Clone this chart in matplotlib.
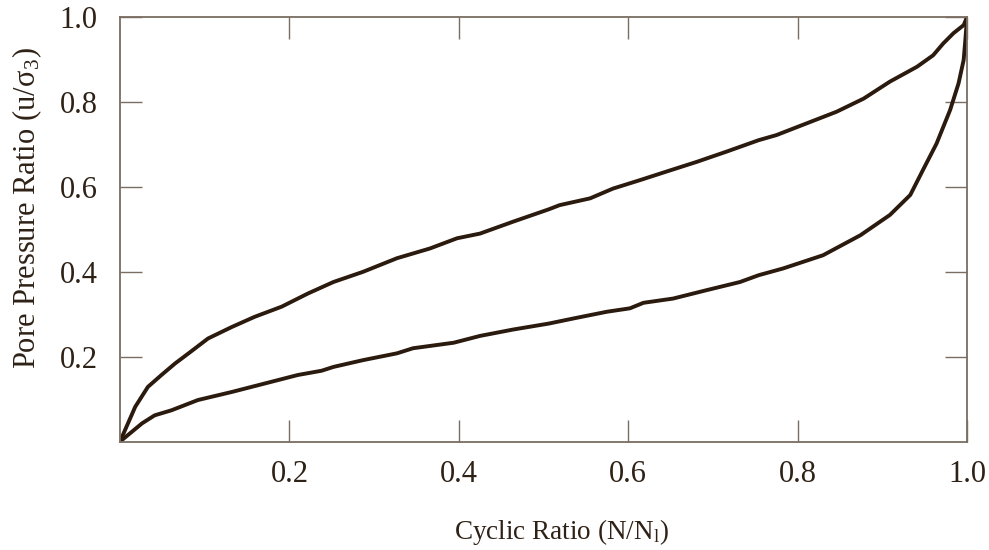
import matplotlib
matplotlib.use("Agg")
import matplotlib.pyplot as plt

# ── Data ──────────────────────────────────────────────────────────────────────

upper_x = [0.0, 0.018, 0.033, 0.049, 0.065, 0.081, 0.104, 0.132, 0.159, 0.191,
           0.222, 0.252, 0.287, 0.327, 0.366, 0.398, 0.425, 0.464, 0.506, 0.519,
           0.555, 0.582, 0.614, 0.645, 0.681, 0.716, 0.754, 0.775, 0.815, 0.846,
           0.878, 0.909, 0.941, 0.960, 0.972, 0.984, 0.996, 1.0]
upper_y = [0.0, 0.082, 0.129, 0.157, 0.184, 0.208, 0.243, 0.270, 0.294, 0.318,
           0.349, 0.376, 0.400, 0.432, 0.455, 0.479, 0.490, 0.518, 0.547, 0.557,
           0.573, 0.596, 0.616, 0.636, 0.659, 0.683, 0.710, 0.722, 0.753, 0.777,
           0.808, 0.848, 0.883, 0.910, 0.938, 0.962, 0.981, 1.0]

lower_x = [0.0, 0.026, 0.041, 0.061, 0.092, 0.132, 0.171, 0.210, 0.238, 0.252,
           0.287, 0.327, 0.346, 0.394, 0.425, 0.464, 0.506, 0.535, 0.575, 0.602,
           0.618, 0.653, 0.693, 0.732, 0.754, 0.783, 0.830, 0.874, 0.909, 0.933,
           0.948, 0.964, 0.980, 0.990, 0.996, 0.998, 1.0]
lower_y = [0.0, 0.043, 0.062, 0.074, 0.098, 0.117, 0.137, 0.157, 0.167, 0.176,
           0.192, 0.208, 0.220, 0.233, 0.249, 0.264, 0.278, 0.290, 0.306, 0.314,
           0.327, 0.337, 0.357, 0.376, 0.392, 0.408, 0.439, 0.486, 0.534, 0.581,
           0.640, 0.702, 0.781, 0.844, 0.899, 0.946, 1.0]

x_ticks = [0.2, 0.4, 0.6, 0.8, 1.0]
y_ticks = [0.2, 0.4, 0.6, 0.8, 1.0]

# ── Style ─────────────────────────────────────────────────────────────────────

plt.rcParams["font.family"] = ["Liberation Serif", "DejaVu Serif"]
plt.rcParams["mathtext.fontset"] = "stix"

LINE_COLOR = "#2b1a0e"
FRAME_COLOR = "#7a6d62"
TEXT_COLOR = "#2e2116"

fig = plt.figure(figsize=(9.89, 5.5), dpi=100)
ax = fig.add_axes([0.1213, 0.197, 0.8565, 0.772])

ax.plot(upper_x, upper_y, color=LINE_COLOR, linewidth=2.8, solid_joinstyle="round")
ax.plot(lower_x, lower_y, color=LINE_COLOR, linewidth=2.8, solid_joinstyle="round")

ax.set_xlim(0, 1.0)
ax.set_ylim(0, 1.0)
ax.set_xticks(x_ticks)
ax.set_yticks(y_ticks)
ax.set_xticklabels([f"{v:.1f}" for v in x_ticks])
ax.set_yticklabels([f"{v:.1f}" for v in y_ticks])

for side in ["left", "right", "top", "bottom"]:
    ax.spines[side].set_color(FRAME_COLOR)
    ax.spines[side].set_linewidth(1.3)

ax.tick_params(axis="both", direction="in", length=15.6, width=1.0,
               color=FRAME_COLOR, labelcolor=TEXT_COLOR, labelsize=22,
               top=True, right=True)
ax.tick_params(axis="y", pad=16)
ax.tick_params(axis="x", pad=13)

ax.set_xlabel(r"Cyclic Ratio (N/N$_\mathregular{l}$)", fontsize=19.5,
              color=TEXT_COLOR)
ax.set_ylabel(r"Pore Pressure Ratio (u/σ$_\mathregular{3}$)", fontsize=22,
              color=TEXT_COLOR)
ax.xaxis.set_label_coords(0.521, -0.178)
ax.yaxis.set_label_coords(-0.09, 0.55)

fig.savefig("out.png", dpi=100, facecolor="white")
